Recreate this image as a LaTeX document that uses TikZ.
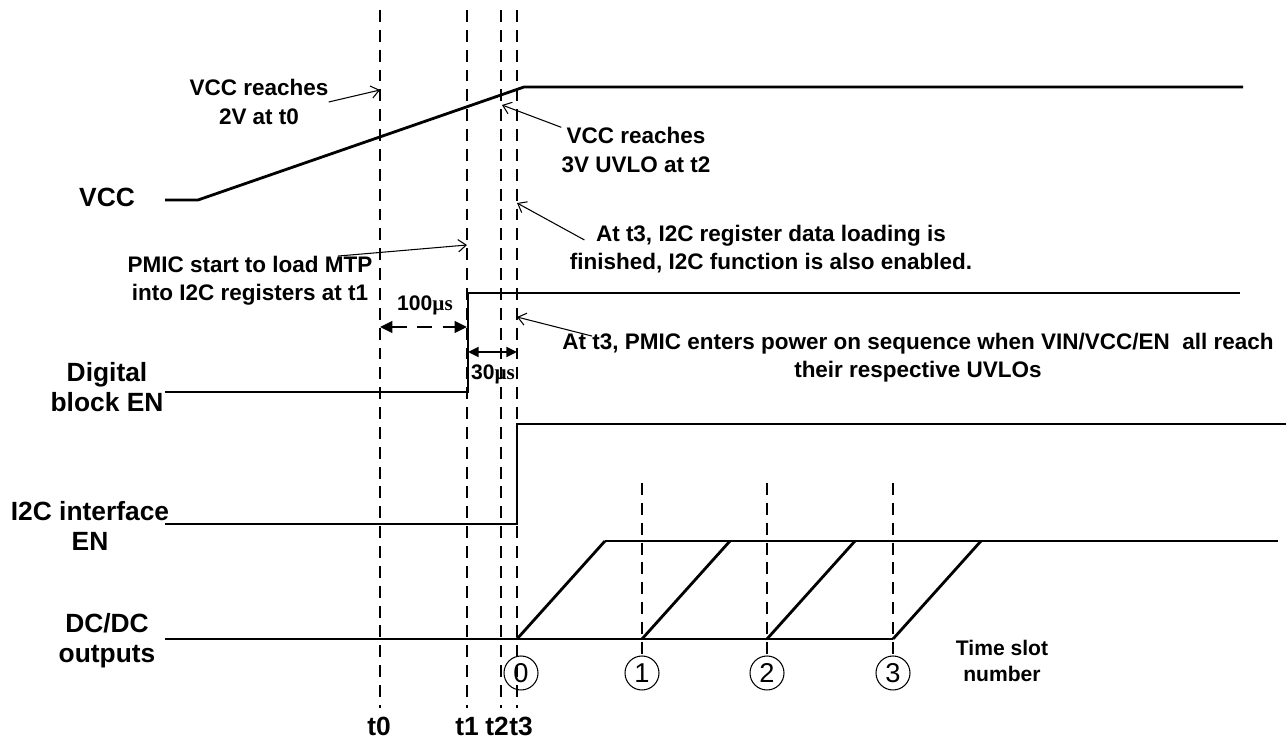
\documentclass[tikz,border=0pt]{standalone}
\usepackage{fontspec}
\setmainfont{Liberation Sans}
\newfontfamily\mufont{Liberation Serif}
\usetikzlibrary{arrows.meta}

\begin{document}
\begin{tikzpicture}[x=0.02cm, y=-0.02cm, every node/.style={font=\bfseries\fontsize{12.8}{16}\selectfont, inner sep=0pt}]
  \tikzset{
    sig/.style={line width=1.6pt, line join=miter},
    tline/.style={line width=0.9pt, dash pattern=on 6.8pt off 4.5pt},
    note/.style={align=center},
    lbl/.style={align=center, font=\bfseries\fontsize{15}{17}\selectfont},
    ptr/.style={line width=0.6pt, -{Straight Barb[length=4.5pt, width=7pt]}},
    slot/.style={draw, circle, line width=0.6pt, minimum size=0.68cm, font=\fontsize{15.5}{17}\selectfont},
    dim/.style={line width=1.6pt, {Triangle[length=7pt, width=6.5pt]}-{Triangle[length=7pt, width=6.5pt]}},
    tag/.style={font=\bfseries\fontsize{12}{13}\selectfont}
  }
  \useasboundingbox (0,0) rectangle (1286,742);

  % time marks t0..t3
  \foreach \n/\x in {0/380, 1/467, 2/501, 3/517}
    \draw[tline] (\x,10) coordinate (t\n top) -- (\x,708) coordinate (t\n bot);
  \node[lbl, anchor=base] (lt0) at (379,736) {t0};
  \node[lbl, anchor=base] (lt1) at (467,736) {t1};
  \node[lbl, anchor=base] (lt2) at (497,736) {t2};
  \node[lbl, anchor=base] (lt3) at (521,736) {t3};

  % time slots
  \node[slot] (s0) at (521,673) {0};
  \foreach \n/\x in {1/642, 2/767, 3/893} {
    \node[slot] (s\n) at (\x,673) {\n};
    \draw[tline] (\x,483) -- (s\n.north);
  }
  \node[note, font=\bfseries\fontsize{12}{15}\selectfont] (slotno) at (1002,661) {Time slot\\number};

  % signal names
  \node[lbl] (vcc) at (107,197) {VCC};
  \node[lbl] (dig) at (107,387) {Digital\\block EN};
  \node[lbl] (iic) at (90,526) {I2C interface\\EN};
  \node[lbl] (dcdc) at (107,641) {DC/DC\\outputs};

  % waveforms
  \draw[sig] (165,200) -- (198,200) -- (524,87) -- (1243,87);
  \draw[sig] (165,392) -- (468,392) -- (468,293) -- (1240,293);
  \draw[sig] (165,524) -- (517,524) -- (517,424) -- (1286,424);
  \draw[sig] (165,639) -- (893,639);
  \draw[sig] (605,541) -- (1278,541);
  \foreach \x in {517, 642, 767, 893}
    \draw[sig] (\x,639) -- ++(88,-98);

  % notes
  \coordinate (p0) at (380,90);
  \coordinate (p2) at (502,105);
  \coordinate (p3) at (517,203);
  \coordinate (p4) at (467,245);
  \coordinate (p5) at (517,317);
  \node[note] (n0) at (259,102) {VCC reaches\\2V at t0};
  \node[note] (n2) at (636,150) {VCC reaches\\3V UVLO at t2};
  \node[note] (n3) at (771,249) {At t3, I2C register data loading is\\finished, I2C function is also enabled.};
  \node[note] (n4) at (250,281) {PMIC start to load MTP\\into I2C registers at t1};
  \node[note] (n5) at (918,358) {At t3, PMIC enters power on sequence when VIN/VCC/EN\ \ all reach\\their respective UVLOs};
  \draw[ptr] (n0.east) -- (p0);
  \draw[ptr] (n2.north west) -- (p2);
  \draw[ptr] ([shift={(15,-9)}]n3.west) -- (p3);
  \draw[ptr] ([shift={(88,0)}]n4.north) -- (p4);
  \draw[ptr] ([shift={(30,3)}]n5.north west) -- (p5);

  % delays
  \coordinate (d0) at (380,327);
  \coordinate (d1) at (467,327);
  \coordinate (e0) at (468,352);
  \coordinate (e1) at (517,352);
  \draw[dim, dash pattern=on 8.5pt off 6pt] (d0) -- (d1);
  \draw[dim, {Triangle[length=6pt, width=5.5pt]}-{Triangle[length=6pt, width=5.5pt]}] (e0) -- (e1);
  \node[tag] (w100) at (425,305) {100{\mufont µs}};
  \node[tag] (w30) at (493,374) {30{\mufont µs}};
\end{tikzpicture}
\end{document}
